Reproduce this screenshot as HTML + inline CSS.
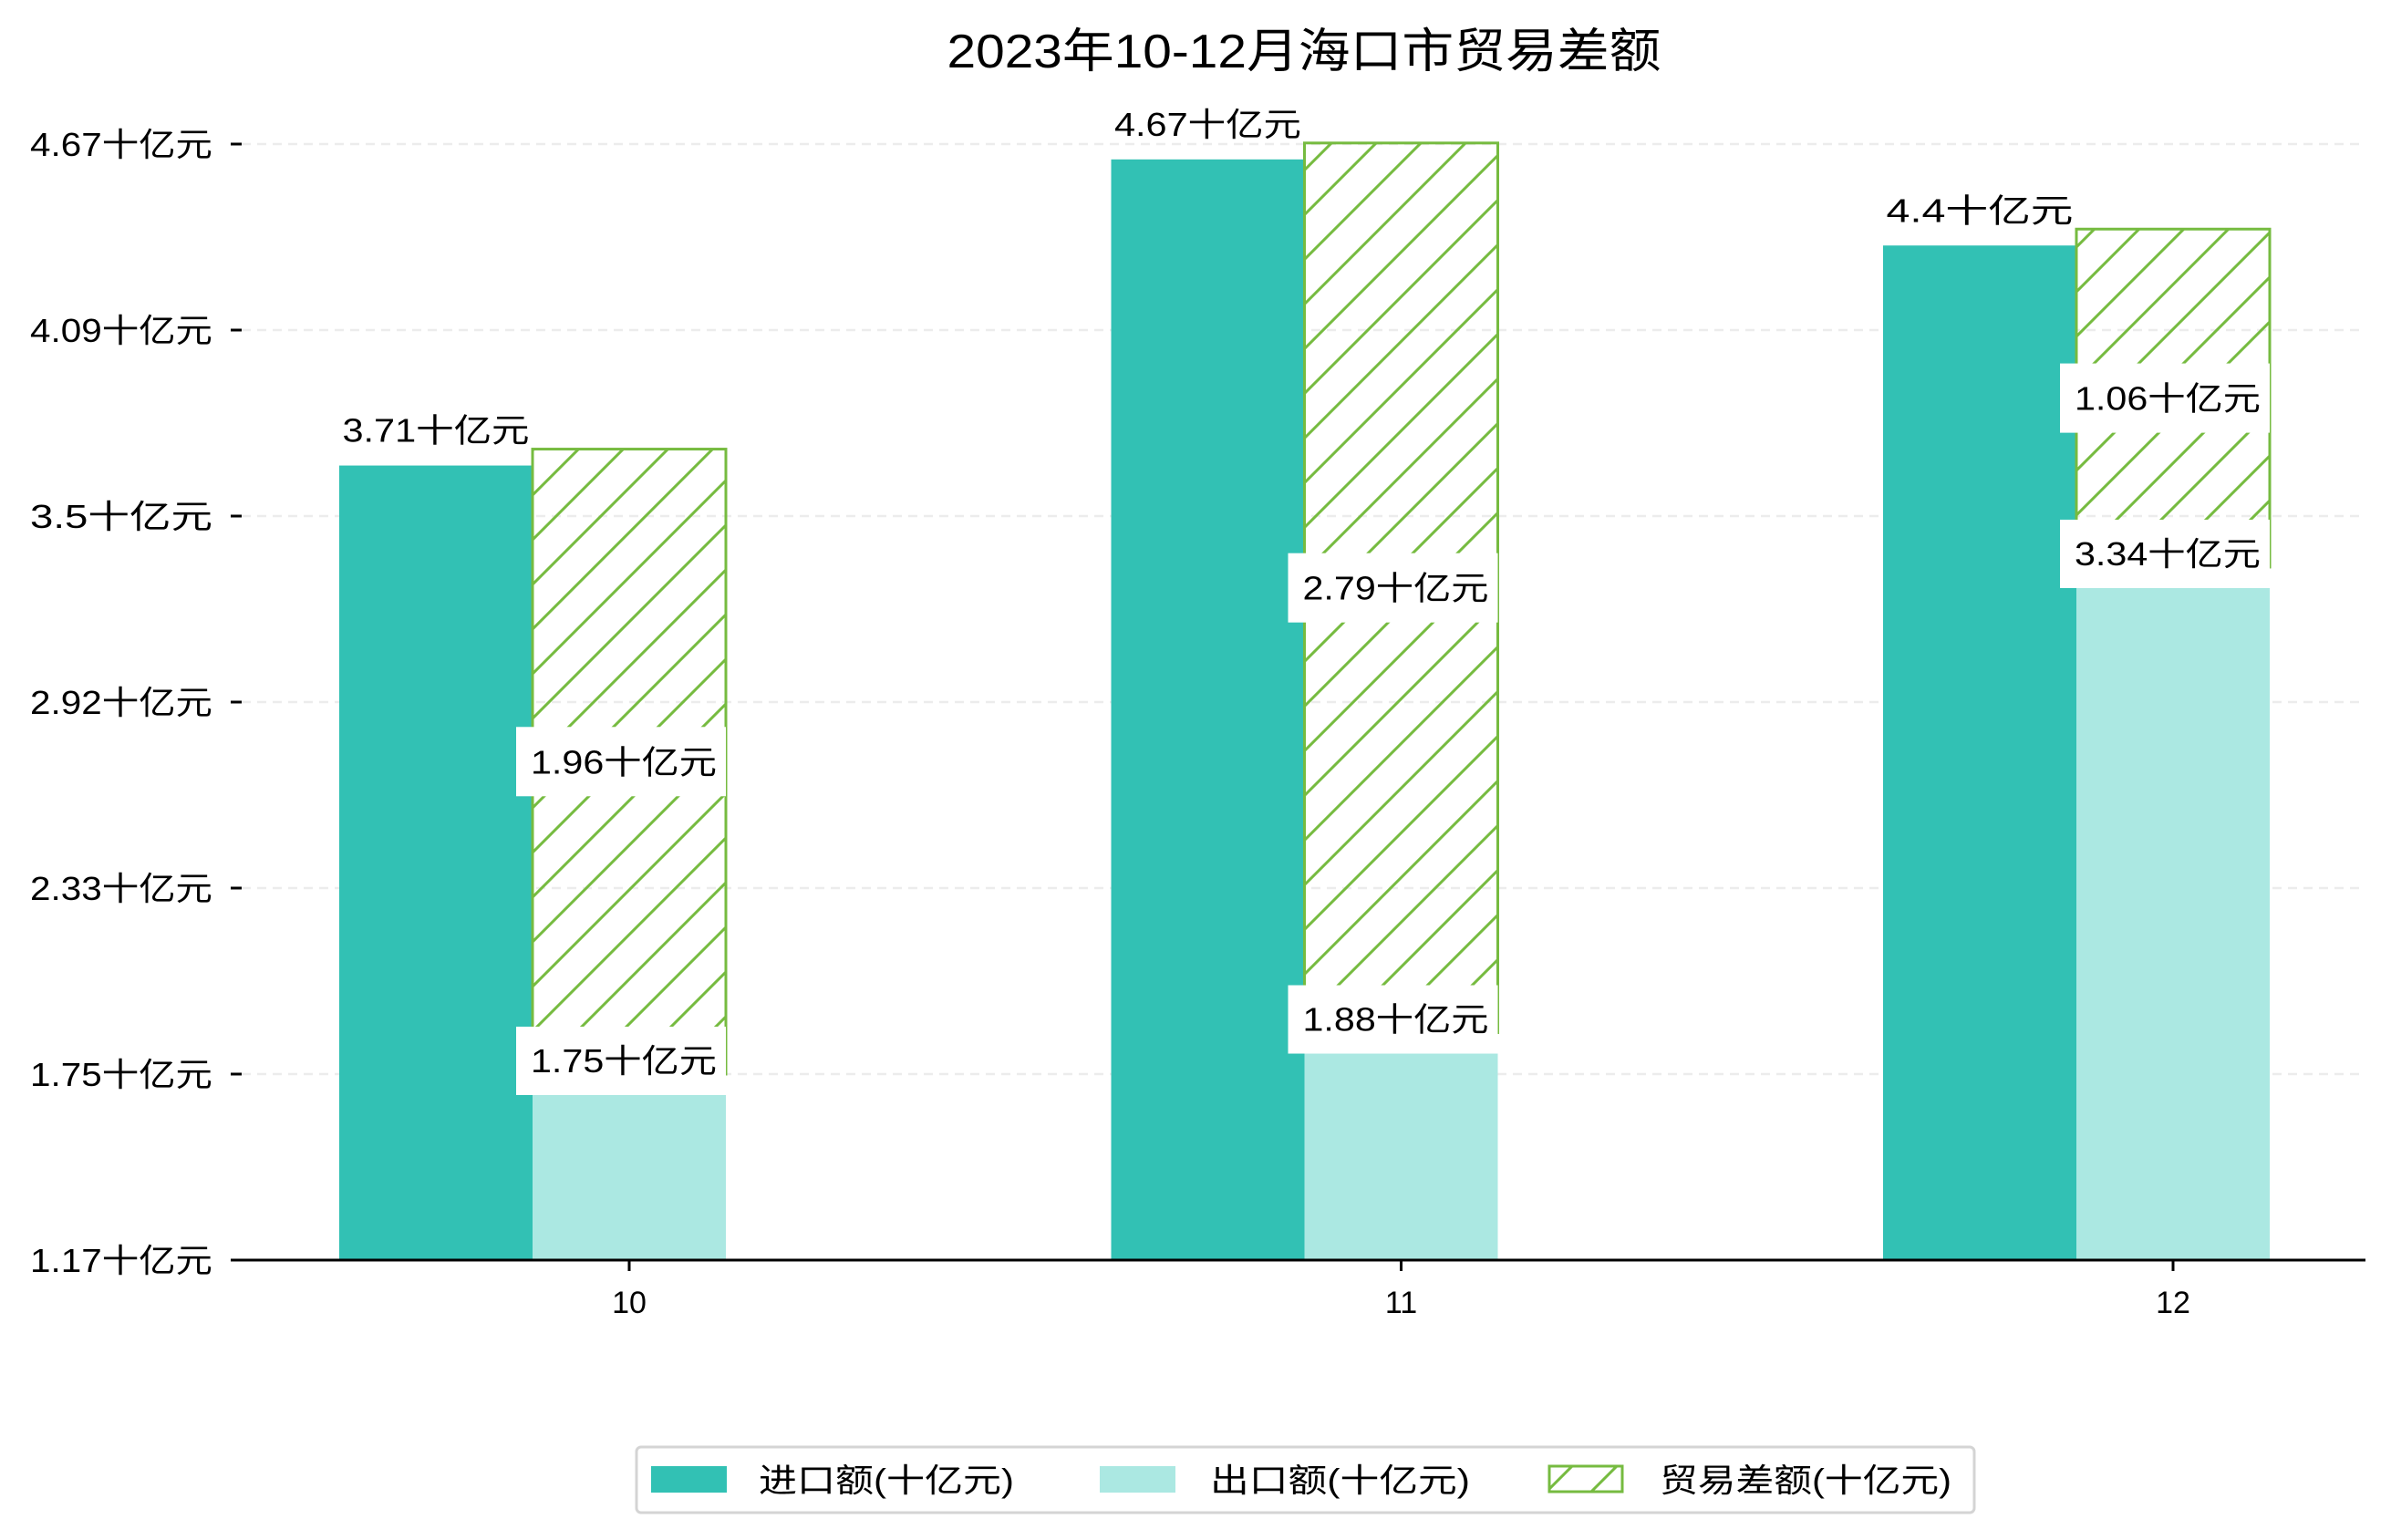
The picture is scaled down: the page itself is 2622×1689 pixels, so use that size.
<!DOCTYPE html>
<html><head><meta charset="utf-8"><style>
html,body{margin:0;padding:0;background:#fff;}
svg{display:block;}
text{font-family:"Liberation Sans","Noto Sans CJK SC",sans-serif;fill:#000;}
</style></head><body>
<svg id="chart" width="2622" height="1689" viewBox="0 0 2622 1689" xmlns="http://www.w3.org/2000/svg">
<defs>
<pattern id="hatch" patternUnits="userSpaceOnUse" width="49" height="49">
<line x1="-5" y1="54" x2="54" y2="-5" stroke="#76bb40" stroke-width="3"/>
<line x1="-5" y1="5" x2="5" y2="-5" stroke="#76bb40" stroke-width="3"/>
<line x1="44" y1="54" x2="54" y2="44" stroke="#76bb40" stroke-width="3"/>
</pattern>
</defs>
<text x="1430" y="74" text-anchor="middle" font-size="52" textLength="783" lengthAdjust="spacingAndGlyphs">2023年10-12月海口市贸易差额</text>
<g id="grid"></g>
<g id="bars"></g>
<g id="labels"></g>
<g id="axes"></g>
<g>
<rect x="698" y="1587" width="1467" height="72" rx="5" fill="#fff" stroke="#d4d4d4" stroke-width="3"/>
<rect x="714" y="1608" width="83" height="29" fill="#32c1b4"/>
<text x="832" y="1636" font-size="36" textLength="280" lengthAdjust="spacingAndGlyphs">进口额(十亿元)</text>
<rect x="1206" y="1608" width="83" height="29" fill="#abe8e2"/>
<text x="1327" y="1636" font-size="36" textLength="285" lengthAdjust="spacingAndGlyphs">出口额(十亿元)</text>
<rect x="1699" y="1608" width="80" height="28" fill="url(#hatch)" stroke="#76bb40" stroke-width="3"/>
<text x="1820" y="1636" font-size="36" textLength="320" lengthAdjust="spacingAndGlyphs">贸易差额(十亿元)</text>
</g>
</svg>
<script>
const months = ['10', '11', '12'];
const importVals = [3.71, 4.67, 4.4];
const exportVals = [1.75, 1.88, 3.34];
const balanceVals = [1.96, 2.79, 1.06];
const yTicks = [1.1667, 1.75, 2.3333, 2.9167, 3.5, 4.0833, 4.6667];
const yTickLabels = ['1.17', '1.75', '2.33', '2.92', '3.5', '4.09', '4.67'];

const NS = 'http://www.w3.org/2000/svg';
const Y0 = 1382, Y1 = 158, VMIN = 7/6, VMAX = 14/3;
const X0 = 255, X1 = 2594;
const yScale = v => Y0 - (v - VMIN) / (VMAX - VMIN) * (Y0 - Y1);
const xCenter = i => 690 + i * 846.5;
const BW = 212;
const DROP = 18;
function mk(tag, attrs, parent) {
  const e = document.createElementNS(NS, tag);
  for (const k in attrs) e.setAttribute(k, attrs[k]);
  parent.appendChild(e);
  return e;
}
const grid = document.getElementById('grid');
const bars = document.getElementById('bars');
const labels = document.getElementById('labels');
const axes = document.getElementById('axes');

yTicks.forEach((v, i) => {
  const y = yScale(v);
  if (i > 0) {
    const g = mk('line', {x1: 265, x2: X1, y1: y, y2: y, stroke: '#ececec', 'stroke-width': 2.5, 'stroke-dasharray': '10 7'}, grid);
    
    
  }
  const t = mk('line', {x1: 253, x2: 265, y1: y, y2: y, stroke: '#000', 'stroke-width': 3}, axes);
  
  
  const tx = mk('text', {x: 233, y: y + 13, 'text-anchor': 'end', 'font-size': 36, textLength: 200, lengthAdjust: 'spacingAndGlyphs'}, axes);
  tx.textContent = yTickLabels[i] + '十亿元';
  
  
});

months.forEach((m, i) => {
  const c = xCenter(i);
  const imp = mk('rect', {x: c - 1.5 * BW, y: yScale(importVals[i]) + DROP, width: BW, height: Y0 - yScale(importVals[i]) - DROP, fill: '#32c1b4'}, bars);
  
  
  const ex = mk('rect', {x: c - 0.5 * BW, y: yScale(exportVals[i]) + DROP, width: BW, height: Y0 - yScale(exportVals[i]) - DROP, fill: '#abe8e2'}, bars);
  
  
  const top = yScale(exportVals[i] + balanceVals[i]);
  const bot = yScale(exportVals[i]);
  const bal = mk('rect', {x: c - 0.5 * BW, y: top, width: BW, height: bot - top, fill: 'url(#hatch)', stroke: '#76bb40', 'stroke-width': 3}, bars);
  
  

  const il = mk('text', {x: c - BW, y: yScale(importVals[i]) - 8, 'text-anchor': 'middle', 'font-size': 36, textLength: 205, lengthAdjust: 'spacingAndGlyphs'}, labels);
  il.textContent = importVals[i] + '十亿元';
  
  

  const ey = yScale(exportVals[i]) - 15;
  const eb = mk('rect', {x: c + 0.5 * BW - 230, y: ey - 37, width: 230, height: 75, fill: '#fff'}, labels);
  
  
  const el = mk('text', {x: c + 0.5 * BW - 112, y: ey + 13, 'text-anchor': 'middle', 'font-size': 36, textLength: 204, lengthAdjust: 'spacingAndGlyphs'}, labels);
  el.textContent = exportVals[i] + '十亿元';
  
  

  const by = (top + bot) / 2;
  const bb = mk('rect', {x: c + 0.5 * BW - 230, y: by - 38, width: 230, height: 76, fill: '#fff'}, labels);
  
  
  const bl = mk('text', {x: c + 0.5 * BW - 112, y: by + 13, 'text-anchor': 'middle', 'font-size': 36, textLength: 204, lengthAdjust: 'spacingAndGlyphs'}, labels);
  bl.textContent = balanceVals[i] + '十亿元';
  
  

  const xt = mk('line', {x1: c, x2: c, y1: Y0, y2: Y0 + 12, stroke: '#000', 'stroke-width': 3}, axes);
  
  
  const xl = mk('text', {x: c, y: Y0 + 58, 'text-anchor': 'middle', 'font-size': 34}, axes);
  xl.textContent = m;
  
  
});
const ax = mk('line', {x1: X0, x2: X1, y1: Y0, y2: Y0, stroke: '#000', 'stroke-width': 3}, axes);


</script>
</body></html>
